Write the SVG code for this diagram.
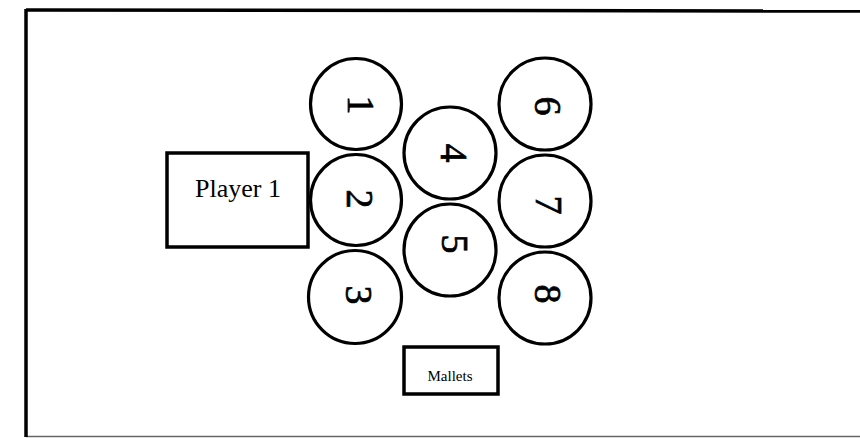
<svg xmlns="http://www.w3.org/2000/svg" width="860" height="438" viewBox="0 0 860 438">
<style>
.frame{fill:none;stroke:#000;}
.ring{fill:#fff;stroke:#000;stroke-width:3.2;}
.box{fill:#fff;stroke:#000;stroke-width:3.5;}
.num{font-family:"Liberation Serif","DejaVu Serif",serif;font-size:38px;fill:#000;stroke:#000;stroke-width:0.7;text-anchor:middle;}
.lbl{font-family:"Liberation Serif","DejaVu Serif",serif;fill:#000;text-anchor:middle;}
</style>
<rect width="860" height="438" fill="#fff"/>
<g id="frame">
<line class="frame" x1="26" y1="10" x2="860" y2="11" stroke-width="3.5"/>
<line class="frame" x1="26" y1="9" x2="26" y2="437" stroke-width="3.5"/>
<line class="frame" x1="26" y1="436.5" x2="860" y2="436.5" stroke-width="1.5" stroke-opacity="0.6"/>
</g>
<g id="player1">
<rect class="box" x="167" y="153" width="141" height="94"/>
<text class="lbl" x="238" y="197" font-size="26">Player 1</text>
</g>
<g id="bar1"><circle class="ring" cx="356" cy="104" r="45.5"/><text class="num" transform="translate(361,105) rotate(90)" x="0" y="13">1</text></g>
<g id="bar2"><circle class="ring" cx="356" cy="200" r="45.5"/><text class="num" transform="translate(360,199) rotate(90)" x="0" y="13">2</text></g>
<g id="bar3"><circle class="ring" cx="355" cy="297" r="46.5"/><text class="num" transform="translate(359,295) rotate(90)" x="0" y="13">3</text></g>
<g id="bar4"><circle class="ring" cx="450" cy="153" r="46"/><text class="num" transform="translate(454,153) rotate(90)" x="0" y="13">4</text></g>
<g id="bar5"><circle class="ring" cx="450" cy="250" r="46"/><text class="num" transform="translate(455,244) rotate(90)" x="0" y="13">5</text></g>
<g id="bar6"><circle class="ring" cx="545" cy="104" r="46"/><text class="num" transform="translate(548,106) rotate(90)" x="0" y="13">6</text></g>
<g id="bar7"><circle class="ring" cx="545" cy="201" r="46"/><text class="num" transform="translate(549,205) rotate(90)" x="0" y="13">7</text></g>
<g id="bar8"><circle class="ring" cx="545" cy="298" r="46"/><text class="num" transform="translate(548,294) rotate(90)" x="0" y="13">8</text></g>
<g id="mallets">
<rect class="box" x="404" y="347" width="94" height="47"/>
<text class="lbl" x="450" y="381" font-size="15">Mallets</text>
</g>
</svg>
